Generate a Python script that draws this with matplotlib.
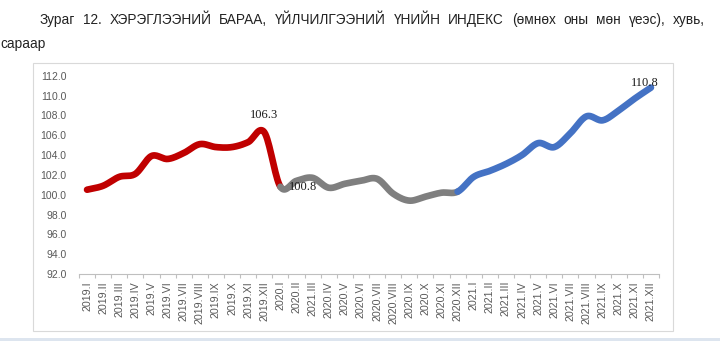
import matplotlib
matplotlib.use("Agg")
import matplotlib.pyplot as plt
from matplotlib.patches import Rectangle
import numpy as np

# data
labels = ["2019.I", "2019.II", "2019.III", "2019.IV", "2019.V", "2019.VI",
          "2019.VII", "2019.VIII", "2019.IX", "2019.X", "2019.XI", "2019.XII",
          "2020.I", "2020.II", "2021.III", "2020.IV", "2020.V", "2020.VI",
          "2020.VII", "2020.VIII", "2020.IX", "2020.X", "2020.XI", "2020.XII",
          "2021.I", "2021.II", "2021.III", "2021.IV", "2021.V", "2021.VI",
          "2021.VII", "2021.VIII", "2021.IX", "2021.X", "2021.XI", "2021.XII"]
cpi = [100.5, 100.9, 101.8, 102.1, 103.9, 103.6, 104.2, 105.1, 104.8, 104.8, 105.3, 106.3,
       100.8, 101.4, 101.7, 100.7, 101.1, 101.4, 101.6, 100.1, 99.4, 99.8, 100.2, 100.3,
       101.8, 102.4, 103.1, 104.0, 105.2, 104.8, 106.2, 107.9, 107.5, 108.5, 109.7, 110.8]
# segments: 2019 (red), 2020 (gray), 2021 (blue), share end points
segments = [(0, 12, "#C00000"), (12, 23, "#7F7F7F"), (23, 35, "#4472C4")]
annotated = {11: "106.3", 12: "100.8", 35: "110.8"}

title_words = ["Зураг", "12.", "ХЭРЭГЛЭЭНИЙ", "БАРАА,", "ҮЙЛЧИЛГЭЭНИЙ", "ҮНИЙН",
               "ИНДЕКС", "(өмнөх", "оны", "мөн", "үеэс),", "хувь,"]


def smooth(x, y, n=16):
    # catmull-rom style curve through the points (like excel "smoothed line")
    x = np.asarray(x, float)
    y = np.asarray(y, float)
    px = np.concatenate([[2 * x[0] - x[1]], x, [2 * x[-1] - x[-2]]])
    py = np.concatenate([[2 * y[0] - y[1]], y, [2 * y[-1] - y[-2]]])
    xs, ys = [], []
    t = np.linspace(0, 1, n, endpoint=False)
    for i in range(1, len(px) - 2):
        for p, out in ((px, xs), (py, ys)):
            p0, p1, p2, p3 = p[i - 1], p[i], p[i + 1], p[i + 2]
            out.extend(0.5 * ((2 * p1) + (-p0 + p2) * t
                              + (2 * p0 - 5 * p1 + 4 * p2 - p3) * t ** 2
                              + (-p0 + 3 * p1 - 3 * p2 + p3) * t ** 3))
    xs.append(x[-1])
    ys.append(y[-1])
    return np.array(xs), np.array(ys)


W, H = 720, 341
fig = plt.figure(figsize=(W / 100, H / 100), dpi=100)

# chart frame and bottom strip
fig.patches.append(Rectangle((33 / W, 1 - 331 / H), 640 / W, 268 / H, transform=fig.transFigure,
                             fill=False, edgecolor="#D9D9D9", linewidth=0.8))
fig.patches.append(Rectangle((0, 0), 1, 3.5 / H, transform=fig.transFigure,
                             facecolor="#DDE5EF", edgecolor="none"))

ax = fig.add_axes([79 / W, 1 - 274 / H, 580 / W, (274 - 75.7) / H])

x = np.arange(len(cpi))
sx, sy = smooth(x, cpi)
n = 16
for a, b, col in segments:
    ax.plot(sx[a * n:b * n + 1], sy[a * n:b * n + 1], color=col, lw=4.8,
            solid_capstyle="round", solid_joinstyle="round")

ax.text(11, 107.4, annotated[11], ha="center", va="bottom", fontsize=9,
        family="Liberation Serif", color="#1a1a1a")
ax.text(13.4, 100.8, annotated[12], ha="center", va="center", fontsize=9,
        family="Liberation Serif", color="#1a1a1a")
ax.text(34.6, 111.3, annotated[35], ha="center", va="center", fontsize=9,
        family="Liberation Serif", color="#1a1a1a")

ax.set_xlim(-0.5, len(cpi) - 0.5)
ax.set_ylim(92, 112)
ax.set_yticks(np.arange(92, 112.1, 2))
ax.set_yticklabels([f"{v:.1f}" for v in np.arange(92, 112.1, 2)])
ax.set_xticks(x)
ax.set_xticklabels(labels, rotation=90)
ax.set_xticks(np.arange(-0.5, len(cpi)), minor=True)
ax.tick_params(axis="x", which="major", length=0, pad=5, labelsize=7.7, labelcolor="#595959")
ax.tick_params(axis="x", which="minor", length=3, color="#BFBFBF", width=0.8)
ax.tick_params(axis="y", length=0, pad=9, labelsize=7.5, labelcolor="#595959")
for lab in ax.get_xticklabels() + ax.get_yticklabels():
    lab.set_family("Liberation Sans")
for side in ("top", "right", "left"):
    ax.spines[side].set_visible(False)
ax.spines["bottom"].set_color("#BFBFBF")
ax.spines["bottom"].set_linewidth(0.8)

# justified title line
fig.canvas.draw()
r = fig.canvas.get_renderer()
tfont = dict(family="Liberation Sans", fontsize=9.8, color="#222222", va="center")
objs = [fig.text(0, 1 - 20 / H, w, **tfont) for w in title_words]
widths = [o.get_window_extent(r).width for o in objs]
x0, x1 = 40, 705
gap = (x1 - x0 - sum(widths)) / (len(objs) - 1)
pos = x0
for o, w in zip(objs, widths):
    o.set_x(pos / W)
    pos += w + gap
fig.text(0, 1 - 44 / H, "сараар", **tfont)

fig.savefig("out.png", dpi=100)
